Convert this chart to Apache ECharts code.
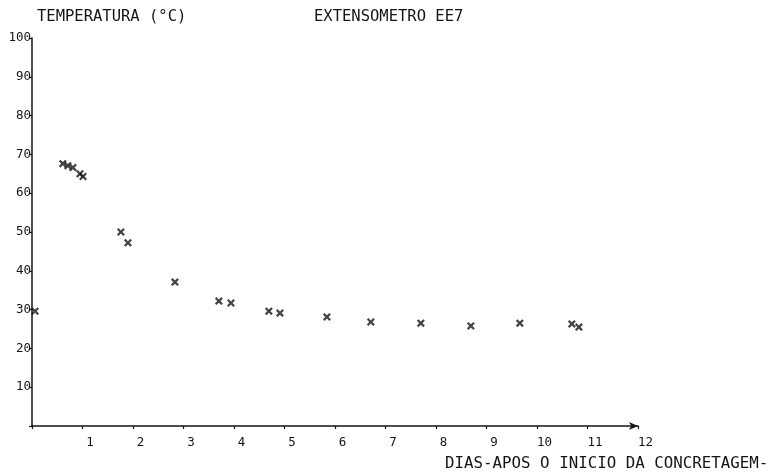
<!DOCTYPE html>
<html>
<head>
<meta charset="utf-8">
<script src="https://cdn.jsdelivr.net/npm/echarts@6/dist/echarts.min.js"></script>
<style>
  html, body { margin: 0; padding: 0; background: #fff; }
  #chart { width: 770px; height: 474px; }
</style>
</head>
<body>
<div id="chart"></div>
<script>
// dias apos o inicio da concretagem
var days = [0.06, 0.61, 0.71, 0.81, 0.95, 1.01, 1.76, 1.90, 2.83, 3.70, 3.94, 4.69, 4.91, 5.84, 6.71, 7.70, 8.69, 9.66, 10.69, 10.83];
// temperatura (graus C)
var temps = [29.6, 67.6, 67.1, 66.6, 65.0, 64.3, 50.0, 47.2, 37.1, 32.2, 31.7, 29.6, 29.1, 28.1, 26.8, 26.5, 25.8, 26.5, 26.3, 25.5];

var xTicks = [0, 12, 1];   // min, max, interval
var yTicks = [0, 100, 10];

var ink = "#151515";
var mono = "DejaVu Sans Mono";

var myChart = echarts.init(document.getElementById("chart"), null, { renderer: "canvas" });

var titleStyle = { fontFamily: mono, fontSize: 15.5, fontWeight: "normal", color: ink };

var option = {
  animation: false,
  backgroundColor: "#fff",
  title: [
    { text: "TEMPERATURA (°C)", left: 37, top: 9, padding: 0, textStyle: titleStyle },
    { text: "EXTENSOMETRO EE7", left: 314, top: 9, padding: 0, textStyle: titleStyle },
    { text: "DIAS-APOS O INICIO DA CONCRETAGEM-", left: 445, top: 456, padding: 0,
      textStyle: { fontFamily: mono, fontSize: 15.8, fontWeight: "normal", color: ink } }
  ],
  grid: {
    left: 32,
    right: 132,
    top: 38,
    bottom: 48
  },
  xAxis: {
    type: "value",
    min: xTicks[0],
    max: xTicks[1],
    interval: xTicks[2],
    splitLine: { show: false },
    axisLine: {
      show: true,
      lineStyle: { color: ink, width: 1.5 },
      symbol: ["none", "arrow"],
      symbolSize: [6, 9]
    },
    axisTick: { show: true, inside: false, length: 3, lineStyle: { color: ink, width: 1.2 } },
    axisLabel: {
      fontFamily: mono,
      fontSize: 12.5,
      color: ink,
      margin: 10,
      padding: [0, 0, 0, 15],
      formatter: function (v) { return v === 0 ? "" : v; }
    }
  },
  yAxis: {
    type: "value",
    min: yTicks[0],
    max: yTicks[1],
    interval: yTicks[2],
    splitLine: { show: false },
    axisLine: { show: true, lineStyle: { color: ink, width: 1.5 } },
    axisTick: { show: true, inside: false, length: 3, lineStyle: { color: ink, width: 1.2 } },
    axisLabel: {
      fontFamily: mono,
      fontSize: 12.5,
      color: ink,
      margin: 1,
      padding: [0, 0, 3, 0],
      formatter: function (v) { return v === 0 ? "" : v; }
    }
  },
  series: [
    {
      type: "scatter",
      data: days.map(function (d, i) { return [d, temps[i]]; }),
      // marcador "x" do plotter
      symbol: "path://M0,2L2,0L5,3L8,0L10,2L7,5L10,8L8,10L5,7L2,10L0,8L3,5Z",
      symbolSize: 8,
      itemStyle: { color: ink }
    }
  ]
};

myChart.setOption(option);
</script>
</body>
</html>
